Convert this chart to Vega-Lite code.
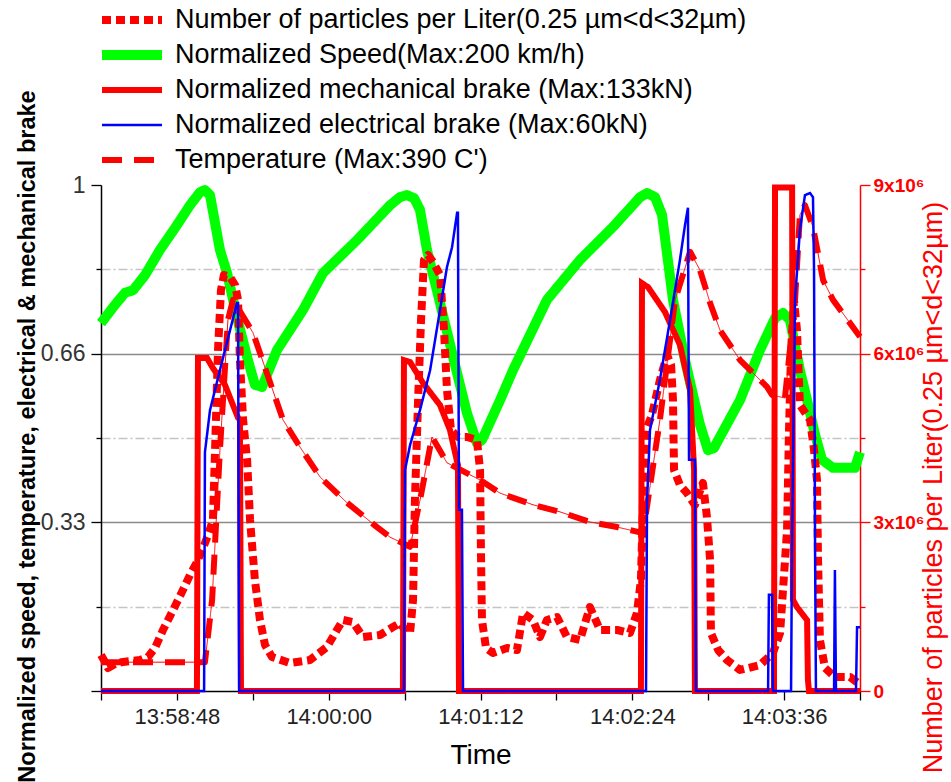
{
"$schema":"https://vega.github.io/schema/vega-lite/v6.json",
"width":759,"height":506,
"autosize":{"type":"none"},
"padding":{"left":101,"top":185,"right":91,"bottom":91},
"background":"white",
"config":{"view":{"stroke":null},"font":"Liberation Sans","axis":{"labelFont":"Liberation Sans","titleFont":"Liberation Sans"},"legend":{"labelFont":"Liberation Sans"}},
"data":{"values":[
{"s":"S","t":50292.0,"v":0.727},{"s":"S","t":50298.6,"v":0.763},{"s":"S","t":50303.4,"v":0.787},{"s":"S","t":50307.2,"v":0.792},{"s":"S","t":50312.9,"v":0.822},{"s":"S","t":50320.0,"v":0.872},{"s":"S","t":50327.1,"v":0.915},{"s":"S","t":50334.2,"v":0.960},{"s":"S","t":50339.0,"v":0.986},{"s":"S","t":50341.3,"v":0.990},{"s":"S","t":50343.7,"v":0.980},{"s":"S","t":50348.4,"v":0.872},{"s":"S","t":50351.8,"v":0.826},{"s":"S","t":50356.5,"v":0.739},{"s":"S","t":50361.3,"v":0.660},{"s":"S","t":50365.0,"v":0.605},{"s":"S","t":50368.4,"v":0.601},{"s":"S","t":50375.5,"v":0.674},{"s":"S","t":50387.8,"v":0.753},{"s":"S","t":50397.3,"v":0.826},{"s":"S","t":50413.4,"v":0.891},{"s":"S","t":50429.1,"v":0.960},{"s":"S","t":50433.8,"v":0.976},{"s":"S","t":50437.1,"v":0.980},{"s":"S","t":50440.5,"v":0.974},{"s":"S","t":50443.3,"v":0.951},{"s":"S","t":50446.6,"v":0.872},{"s":"S","t":50452.8,"v":0.767},{"s":"S","t":50459.0,"v":0.660},{"s":"S","t":50465.6,"v":0.549},{"s":"S","t":50470.3,"v":0.490},{"s":"S","t":50472.7,"v":0.496},{"s":"S","t":50481.3,"v":0.575},{"s":"S","t":50487.4,"v":0.634},{"s":"S","t":50503.5,"v":0.773},{"s":"S","t":50519.2,"v":0.852},{"s":"S","t":50534.8,"v":0.917},{"s":"S","t":50547.7,"v":0.976},{"s":"S","t":50551.0,"v":0.984},{"s":"S","t":50554.8,"v":0.976},{"s":"S","t":50558.1,"v":0.941},{"s":"S","t":50563.3,"v":0.773},{"s":"S","t":50569.0,"v":0.654},{"s":"S","t":50572.8,"v":0.585},{"s":"S","t":50576.1,"v":0.526},{"s":"S","t":50579.9,"v":0.476},{"s":"S","t":50582.7,"v":0.480},{"s":"S","t":50595.1,"v":0.575},{"s":"S","t":50604.6,"v":0.674},{"s":"S","t":50611.7,"v":0.737},{"s":"S","t":50615.5,"v":0.747},{"s":"S","t":50618.8,"v":0.733},{"s":"S","t":50623.5,"v":0.634},{"s":"S","t":50626.9,"v":0.575},{"s":"S","t":50630.7,"v":0.506},{"s":"S","t":50634.0,"v":0.457},{"s":"S","t":50639.2,"v":0.441},{"s":"S","t":50649.6,"v":0.441},{"s":"S","t":50652.0,"v":0.472},
{"s":"M","t":50292.0,"v":0},{"s":"M","t":50337.5,"v":0},{"s":"M","t":50338.0,"v":0.658},{"s":"M","t":50342.3,"v":0.658},{"s":"M","t":50345.1,"v":0.638},{"s":"M","t":50350.8,"v":0.605},{"s":"M","t":50354.6,"v":0.565},{"s":"M","t":50357.0,"v":0.540},{"s":"M","t":50357.9,"v":0.536},{"s":"M","t":50358.4,"v":0},{"s":"M","t":50435.2,"v":0},{"s":"M","t":50435.7,"v":0.654},{"s":"M","t":50438.6,"v":0.650},{"s":"M","t":50444.7,"v":0.609},{"s":"M","t":50452.8,"v":0.565},{"s":"M","t":50457.5,"v":0.516},{"s":"M","t":50460.9,"v":0.453},{"s":"M","t":50461.3,"v":0.447},{"s":"M","t":50461.8,"v":0},{"s":"M","t":50548.1,"v":0},{"s":"M","t":50548.6,"v":0.806},{"s":"M","t":50551.5,"v":0.798},{"s":"M","t":50559.5,"v":0.749},{"s":"M","t":50566.6,"v":0.684},{"s":"M","t":50571.4,"v":0.595},{"s":"M","t":50573.3,"v":0.437},{"s":"M","t":50573.7,"v":0},{"s":"M","t":50611.2,"v":0},{"s":"M","t":50611.7,"v":0.995},{"s":"M","t":50619.8,"v":0.995},{"s":"M","t":50620.2,"v":0.180},{"s":"M","t":50622.1,"v":0.166},{"s":"M","t":50626.9,"v":0.140},{"s":"M","t":50627.3,"v":0.022},{"s":"M","t":50627.8,"v":0},{"s":"M","t":50652.0,"v":0},
{"s":"E","t":50292.0,"v":0},{"s":"E","t":50340.9,"v":0},{"s":"E","t":50341.3,"v":0.472},{"s":"E","t":50343.7,"v":0.555},{"s":"E","t":50348.4,"v":0.634},{"s":"E","t":50353.2,"v":0.713},{"s":"E","t":50356.5,"v":0.767},{"s":"E","t":50357.0,"v":0.767},{"s":"E","t":50357.5,"v":0},{"s":"E","t":50435.7,"v":0},{"s":"E","t":50436.2,"v":0.437},{"s":"E","t":50438.6,"v":0.486},{"s":"E","t":50443.3,"v":0.555},{"s":"E","t":50448.1,"v":0.634},{"s":"E","t":50452.8,"v":0.753},{"s":"E","t":50456.1,"v":0.838},{"s":"E","t":50458.5,"v":0.877},{"s":"E","t":50460.9,"v":0.945},{"s":"E","t":50461.3,"v":0.945},{"s":"E","t":50461.8,"v":0.358},{"s":"E","t":50463.2,"v":0.358},{"s":"E","t":50463.7,"v":0},{"s":"E","t":50550.5,"v":0},{"s":"E","t":50551.0,"v":0.377},{"s":"E","t":50552.4,"v":0.516},{"s":"E","t":50557.1,"v":0.615},{"s":"E","t":50561.9,"v":0.733},{"s":"E","t":50566.6,"v":0.852},{"s":"E","t":50569.0,"v":0.921},{"s":"E","t":50570.4,"v":0.955},{"s":"E","t":50570.9,"v":0.457},{"s":"E","t":50573.7,"v":0.457},{"s":"E","t":50574.2,"v":0},{"s":"E","t":50608.4,"v":0},{"s":"E","t":50608.8,"v":0.190},{"s":"E","t":50610.3,"v":0.190},{"s":"E","t":50610.7,"v":0},{"s":"E","t":50619.3,"v":0},{"s":"E","t":50619.8,"v":0.318},{"s":"E","t":50621.2,"v":0.773},{"s":"E","t":50623.5,"v":0.911},{"s":"E","t":50625.9,"v":0.980},{"s":"E","t":50628.3,"v":0.984},{"s":"E","t":50629.7,"v":0.976},{"s":"E","t":50630.2,"v":0.832},{"s":"E","t":50630.7,"v":0.273},{"s":"E","t":50631.1,"v":0},{"s":"E","t":50639.7,"v":0},{"s":"E","t":50640.1,"v":0.239},{"s":"E","t":50640.6,"v":0},{"s":"E","t":50650.1,"v":0},{"s":"E","t":50650.6,"v":0.126},{"s":"E","t":50652.0,"v":0.126},
{"s":"T","t":50292.0,"v":0.057},{"s":"T","t":50341.3,"v":0.057},{"s":"T","t":50344.7,"v":0.180},{"s":"T","t":50348.4,"v":0.476},{"s":"T","t":50352.2,"v":0.733},{"s":"T","t":50354.6,"v":0.773},{"s":"T","t":50364.1,"v":0.708},{"s":"T","t":50378.3,"v":0.536},{"s":"T","t":50386.4,"v":0.482},{"s":"T","t":50395.9,"v":0.423},{"s":"T","t":50408.7,"v":0.372},{"s":"T","t":50422.9,"v":0.324},{"s":"T","t":50429.1,"v":0.304},{"s":"T","t":50435.2,"v":0.292},{"s":"T","t":50438.6,"v":0.285},{"s":"T","t":50443.3,"v":0.377},{"s":"T","t":50449.0,"v":0.502},{"s":"T","t":50456.1,"v":0.451},{"s":"T","t":50471.8,"v":0.417},{"s":"T","t":50481.3,"v":0.391},{"s":"T","t":50496.9,"v":0.368},{"s":"T","t":50509.7,"v":0.354},{"s":"T","t":50523.9,"v":0.334},{"s":"T","t":50536.8,"v":0.324},{"s":"T","t":50549.1,"v":0.312},{"s":"T","t":50557.1,"v":0.536},{"s":"T","t":50564.3,"v":0.773},{"s":"T","t":50571.4,"v":0.868},{"s":"T","t":50576.1,"v":0.832},{"s":"T","t":50580.9,"v":0.767},{"s":"T","t":50585.6,"v":0.713},{"s":"T","t":50595.1,"v":0.654},{"s":"T","t":50607.9,"v":0.601},{"s":"T","t":50610.3,"v":0.585},{"s":"T","t":50616.4,"v":0.579},{"s":"T","t":50621.2,"v":0.773},{"s":"T","t":50623.5,"v":0.941},{"s":"T","t":50625.9,"v":0.960},{"s":"T","t":50629.7,"v":0.917},{"s":"T","t":50634.5,"v":0.812},{"s":"T","t":50639.2,"v":0.773},{"s":"T","t":50650.6,"v":0.708},{"s":"T","t":50652.0,"v":0.700},
{"s":"P","t":50292.0,"n":640000},{"s":"P","t":50293.9,"n":516000},{"s":"P","t":50295.3,"n":409000},{"s":"P","t":50298.6,"n":480000},{"s":"P","t":50302.4,"n":516000},{"s":"P","t":50310.5,"n":551000},{"s":"P","t":50314.3,"n":605000},{"s":"P","t":50317.6,"n":765000},{"s":"P","t":50321.4,"n":1085000},{"s":"P","t":50326.2,"n":1441000},{"s":"P","t":50330.4,"n":1761000},{"s":"P","t":50334.2,"n":2063000},{"s":"P","t":50337.5,"n":2294000},{"s":"P","t":50340.4,"n":2543000},{"s":"P","t":50342.8,"n":2775000},{"s":"P","t":50345.1,"n":3041000},{"s":"P","t":50346.1,"n":4286000},{"s":"P","t":50347.5,"n":6065000},{"s":"P","t":50348.9,"n":7132000},{"s":"P","t":50350.3,"n":7399000},{"s":"P","t":50353.2,"n":7363000},{"s":"P","t":50355.6,"n":7221000},{"s":"P","t":50357.0,"n":6954000},{"s":"P","t":50357.9,"n":5887000},{"s":"P","t":50359.4,"n":4820000},{"s":"P","t":50361.3,"n":4109000},{"s":"P","t":50362.7,"n":3041000},{"s":"P","t":50365.0,"n":1974000},{"s":"P","t":50367.4,"n":1263000},{"s":"P","t":50369.8,"n":818000},{"s":"P","t":50373.1,"n":605000},{"s":"P","t":50381.6,"n":498000},{"s":"P","t":50391.1,"n":551000},{"s":"P","t":50399.2,"n":783000},{"s":"P","t":50403.9,"n":1085000},{"s":"P","t":50406.8,"n":1263000},{"s":"P","t":50411.5,"n":1227000},{"s":"P","t":50416.3,"n":960000},{"s":"P","t":50424.3,"n":996000},{"s":"P","t":50430.5,"n":1138000},{"s":"P","t":50433.8,"n":1209000},{"s":"P","t":50436.2,"n":1085000},{"s":"P","t":50438.6,"n":1032000},{"s":"P","t":50440.0,"n":1619000},{"s":"P","t":50440.9,"n":3397000},{"s":"P","t":50442.4,"n":5176000},{"s":"P","t":50443.8,"n":6599000},{"s":"P","t":50445.2,"n":7666000},{"s":"P","t":50447.1,"n":7755000},{"s":"P","t":50449.5,"n":7630000},{"s":"P","t":50452.8,"n":7399000},{"s":"P","t":50454.7,"n":6421000},{"s":"P","t":50456.1,"n":5354000},{"s":"P","t":50458.0,"n":4642000},{"s":"P","t":50461.3,"n":4518000},{"s":"P","t":50465.6,"n":4518000},{"s":"P","t":50470.3,"n":4464000},{"s":"P","t":50471.8,"n":3931000},{"s":"P","t":50472.2,"n":2508000},{"s":"P","t":50472.7,"n":1263000},{"s":"P","t":50474.6,"n":765000},{"s":"P","t":50477.9,"n":676000},{"s":"P","t":50484.6,"n":765000},{"s":"P","t":50489.3,"n":729000},{"s":"P","t":50492.2,"n":1387000},{"s":"P","t":50496.9,"n":1263000},{"s":"P","t":50500.2,"n":960000},{"s":"P","t":50503.5,"n":1263000},{"s":"P","t":50508.3,"n":1316000},{"s":"P","t":50513.0,"n":960000},{"s":"P","t":50519.2,"n":907000},{"s":"P","t":50523.9,"n":1494000},{"s":"P","t":50528.7,"n":1085000},{"s":"P","t":50536.8,"n":1085000},{"s":"P","t":50542.9,"n":1032000},{"s":"P","t":50546.2,"n":1387000},{"s":"P","t":50548.1,"n":1974000},{"s":"P","t":50549.1,"n":3397000},{"s":"P","t":50550.5,"n":4642000},{"s":"P","t":50553.3,"n":4909000},{"s":"P","t":50557.1,"n":5531000},{"s":"P","t":50560.5,"n":5976000},{"s":"P","t":50562.4,"n":5798000},{"s":"P","t":50563.3,"n":5176000},{"s":"P","t":50563.8,"n":3931000},{"s":"P","t":50566.6,"n":3664000},{"s":"P","t":50569.9,"n":3522000},{"s":"P","t":50573.7,"n":3308000},{"s":"P","t":50577.5,"n":3700000},{"s":"P","t":50579.4,"n":3095000},{"s":"P","t":50580.9,"n":2330000},{"s":"P","t":50581.3,"n":1032000},{"s":"P","t":50584.7,"n":729000},{"s":"P","t":50588.9,"n":551000},{"s":"P","t":50595.1,"n":374000},{"s":"P","t":50604.6,"n":462000},{"s":"P","t":50610.7,"n":676000},{"s":"P","t":50614.1,"n":1032000},{"s":"P","t":50617.4,"n":2864000},{"s":"P","t":50618.3,"n":4589000},{"s":"P","t":50619.3,"n":6065000},{"s":"P","t":50620.7,"n":6954000},{"s":"P","t":50622.1,"n":6421000},{"s":"P","t":50623.5,"n":5087000},{"s":"P","t":50628.3,"n":4820000},{"s":"P","t":50630.2,"n":4286000},{"s":"P","t":50631.6,"n":3753000},{"s":"P","t":50632.1,"n":2330000},{"s":"P","t":50633.0,"n":907000},{"s":"P","t":50635.4,"n":409000},{"s":"P","t":50640.1,"n":249000},{"s":"P","t":50647.3,"n":249000},{"s":"P","t":50651.1,"n":142000}
]},
"encoding":{
 "x":{"field":"t","type":"quantitative","scale":{"domain":[50292,50652],"nice":false,"zero":false},
  "axis":{"values":[50292,50328,50364,50400,50436,50472,50508,50544,50580,50616,50652],
   "labelExpr":"((datum.value-50292)/36)%2==1 ? utcFormat(datum.value*1000,'%H:%M:%S') : ''",
   "title":"Time","titleFontSize":28,"titleFontWeight":"normal","titleColor":"#000","titlePadding":14,
   "labelFontSize":22,"labelColor":"#222","labelPadding":6,"tickSize":9,"tickColor":"#000","tickWidth":1.3,
   "domainColor":"#000","domainWidth":1.5,"grid":false,"labelFlush":false,"labelOverlap":false}},
 "color":{"field":"s","type":"nominal","scale":{"domain":["P","S","M","E","T"],"range":["#ff0000","#00ff00","#ff0000","#0000ff","#ff0000"]},
  "legend":{"orient":"none","legendX":-4,"legendY":-179,"title":null,"direction":"vertical","padding":0,"symbolType":"stroke","symbolSize":3600,"clipHeight":28,"labelFontSize":27,"labelColor":"#000","labelOffset":8,"labelLimit":800,"rowPadding":7,
   "labelExpr":"datum.label=='P'?'Number of particles per Liter(0.25 µm<d<32µm)':datum.label=='S'?'Normalized Speed(Max:200 km/h)':datum.label=='M'?'Normalized mechanical brake (Max:133kN)':datum.label=='E'?'Normalized electrical brake (Max:60kN)':\"Temperature (Max:390 C')\""}},
 "strokeDash":{"field":"s","type":"nominal","scale":{"domain":["P","S","M","E","T"],"range":[[9,5],[1,0],[1,0],[1,0],[20,12]]},
  "legend":{"orient":"none","legendX":-4,"legendY":-179,"title":null,"direction":"vertical","padding":0,"symbolType":"stroke","symbolSize":3600,"clipHeight":28,"labelFontSize":27,"labelColor":"#000","labelOffset":8,"labelLimit":800,"rowPadding":7,
   "labelExpr":"datum.label=='P'?'Number of particles per Liter(0.25 µm<d<32µm)':datum.label=='S'?'Normalized Speed(Max:200 km/h)':datum.label=='M'?'Normalized mechanical brake (Max:133kN)':datum.label=='E'?'Normalized electrical brake (Max:60kN)':\"Temperature (Max:390 C')\""}},
 "strokeWidth":{"field":"s","type":"nominal","scale":{"type":"ordinal","domain":["P","S","M","E","T"],"range":[8,10,6,2.5,6]},
  "legend":{"orient":"none","legendX":-4,"legendY":-179,"title":null,"direction":"vertical","padding":0,"symbolType":"stroke","symbolSize":3600,"clipHeight":28,"labelFontSize":27,"labelColor":"#000","labelOffset":8,"labelLimit":800,"rowPadding":7,
   "labelExpr":"datum.label=='P'?'Number of particles per Liter(0.25 µm<d<32µm)':datum.label=='S'?'Normalized Speed(Max:200 km/h)':datum.label=='M'?'Normalized mechanical brake (Max:133kN)':datum.label=='E'?'Normalized electrical brake (Max:60kN)':\"Temperature (Max:390 C')\""}}
},
"layer":[
 {"encoding":{"y":{"field":"v","type":"quantitative","scale":{"domain":[0,1],"nice":false,"zero":true},
   "axis":{"orient":"left","values":[0,0.1667,0.3333,0.5,0.6667,0.8333,1],
    "labelExpr":"datum.value==1?'1':datum.value==0.6667?'0.66':datum.value==0.3333?'0.33':''",
    "labelFontSize":23,"labelColor":"#333","labelPadding":6,"domainColor":"#000","domainWidth":1.5,"tickColor":"#000","tickWidth":1.3,
    "tickSize":{"condition":{"test":"datum.value==0||datum.value==0.3333||datum.value==0.6667||datum.value==1","value":10},"value":5},
    "grid":true,
    "gridColor":{"condition":{"test":"datum.value==0.3333||datum.value==0.6667","value":"#8a8a8a"},"value":"#c4c4c4"},
    "gridDash":{"condition":{"test":"datum.value==0.3333||datum.value==0.6667","value":[1,0]},"value":[9,3,2,3]},
    "gridWidth":{"condition":{"test":"datum.value==0.3333||datum.value==0.6667","value":1.5},"value":1.3},
    "gridOpacity":{"condition":{"test":"datum.value==0||datum.value==1","value":0},"value":1},
    "title":"Normalized speed, temperature, electrical & mechanical brake","titleFontSize":23.5,"titleFontWeight":"bold","titleColor":"#000",
    "titleX":-74,"titleY":251,"titleAngle":270,"titleAlign":"center","titleBaseline":"middle"}}},
  "layer":[
   {"transform":[{"filter":"datum.s=='S'"}],"mark":{"type":"line","strokeJoin":"round"}},
   {"transform":[{"filter":"datum.s=='T'"}],"mark":{"type":"line","color":"#ff0000","strokeWidth":1},"encoding":{"color":{"value":"#ff0000"},"strokeWidth":{"value":1},"strokeDash":{"value":[1,0]}}},
   {"transform":[{"filter":"datum.s=='T'"}],"mark":{"type":"line","strokeJoin":"round"}},
   {"transform":[{"filter":"datum.s=='M'"}],"mark":{"type":"line","strokeJoin":"miter"}}
  ]},
 {"encoding":{"y":{"field":"n","type":"quantitative","scale":{"domain":[0,9000000],"nice":false,"zero":true},
   "axis":{"orient":"right","values":[0,1500000,3000000,4500000,6000000,7500000,9000000],
    "labelExpr":"datum.value==0?'0':datum.value==3000000?'3x10⁶':datum.value==6000000?'6x10⁶':datum.value==9000000?'9x10⁶':''",
    "labelFontSize":19,"labelFontWeight":"bold","labelColor":"#ff0000","labelPadding":3,"domainColor":"#ff0000","domainWidth":1.5,"tickColor":"#ff0000","tickWidth":1.3,
    "tickSize":{"condition":{"test":"datum.value==0||datum.value==3000000||datum.value==6000000||datum.value==9000000","value":10},"value":5},
    "grid":false,
    "title":"Number of particles per Liter(0.25 µm<d<32µm)","titleFontSize":27,"titleFontWeight":"normal","titleColor":"#ff0000",
    "titleX":73,"titleY":302,"titleAngle":270,"titleAlign":"center","titleBaseline":"middle"}}},
  "layer":[
   {"transform":[{"filter":"datum.s=='P'"}],"mark":{"type":"line","strokeJoin":"round"}}
  ]},
 {"encoding":{"y":{"field":"v","type":"quantitative","scale":{"domain":[0,1],"nice":false,"zero":true},"axis":null}},
  "layer":[
   {"transform":[{"filter":"datum.s=='E'"}],"mark":{"type":"line","strokeJoin":"miter"}}
  ]}
],
"resolve":{"scale":{"y":"independent"}}
}
